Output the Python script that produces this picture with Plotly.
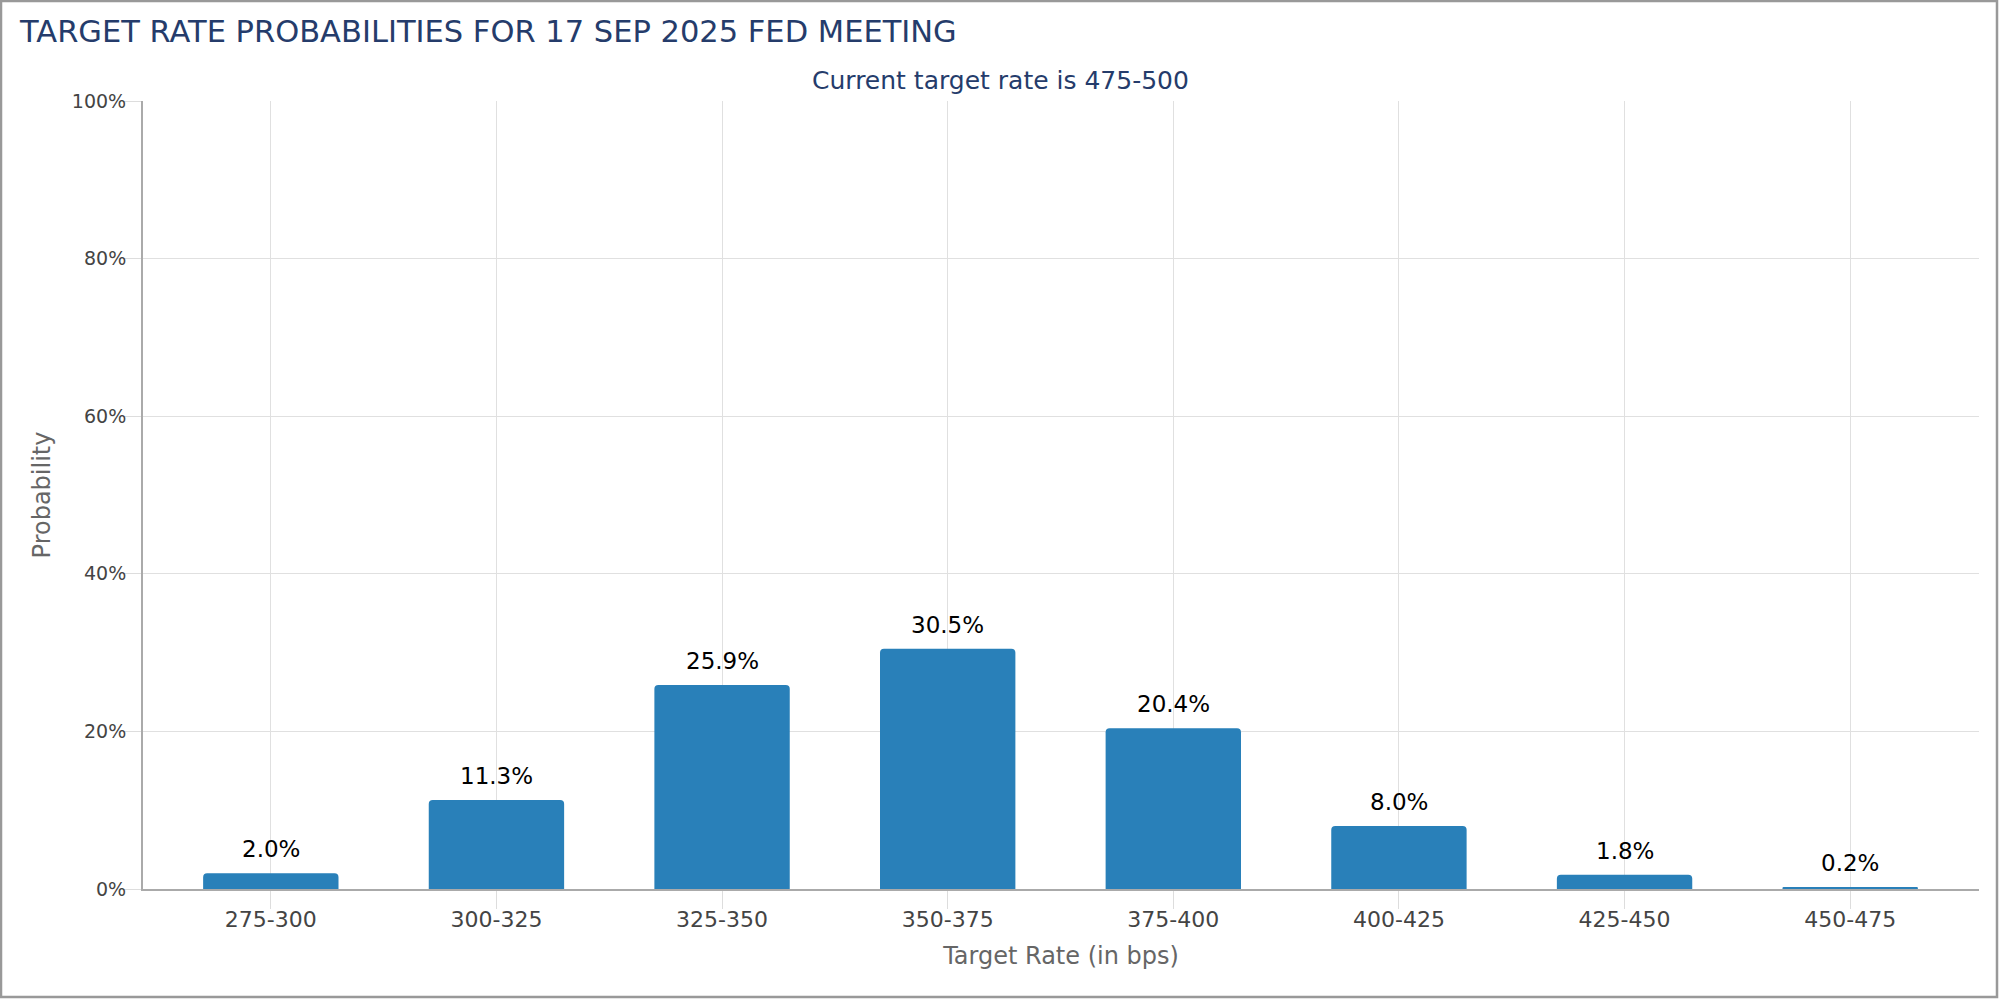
import plotly.graph_objects as go

categories = ["275-300", "300-325", "325-350", "350-375", "375-400", "400-425", "425-450", "450-475"]
probabilities = [2.0, 11.3, 25.9, 30.5, 20.4, 8.0, 1.8, 0.2]
y_ticks = [0, 20, 40, 60, 80, 100]
y_tick_labels = [f"{v}%" for v in y_ticks]

title_text = "TARGET RATE PROBABILITIES FOR 17 SEP 2025 FED MEETING"
subtitle_text = "Current target rate is 475-500"

W, H = 2000, 1000
ML, MR, MT, MB = 143, 21, 101, 111
PW, PH = W - ML - MR, H - MT - MB
FONT = "DejaVu Sans"

fig = go.Figure()
fig.add_trace(go.Bar(
    x=categories, y=probabilities,
    marker=dict(color="#2980b9", cornerradius=4, line=dict(width=0)),
    hoverinfo="x+y",
))

for c, v in zip(categories, probabilities):
    fig.add_annotation(x=c, y=v, text=f"{v:.1f}%", showarrow=False,
                       yanchor="middle", yshift=24,
                       font=dict(family=FONT, size=23, color="#000000"))

fig.add_annotation(xref="paper", yref="paper",
                   x=(W / 2 - ML) / PW, y=1 + (MT - 80) / PH,
                   text=subtitle_text, showarrow=False,
                   xanchor="center", yanchor="middle",
                   font=dict(family=FONT, size=25, color="#253c6b"))

# outer frame
fig.add_shape(type="rect", xref="paper", yref="paper",
              x0=-(ML - 1) / PW, x1=1 + (MR - 3) / PW,
              y0=-(MB - 3) / PH, y1=1 + (MT - 1) / PH,
              line=dict(color="#999999", width=2.5), fillcolor="rgba(0,0,0,0)")

fig.update_layout(
    width=W, height=H,
    margin=dict(l=ML, r=MR, t=MT, b=MB, pad=0),
    paper_bgcolor="white", plot_bgcolor="white",
    bargap=0.4,
    showlegend=False,
    title=dict(text=title_text, x=20 / W, xanchor="left", y=1 - 31 / H,
               yanchor="middle", yref="container",
               font=dict(family=FONT, size=30.5, color="#253c6b")),
    font=dict(family=FONT),
    xaxis=dict(
        type="category",
        range=[-0.5 - 15 / 225.6, len(categories) - 0.5 + 16 / 225.6],
        showgrid=True, gridcolor="#e0e0e0", gridwidth=1,
        showline=True, linecolor="#aaaaaa", linewidth=2,
        ticks="outside", ticklen=18, tickcolor="#dddddd", tickwidth=1,
        ticklabelstandoff=-8,
        tickfont=dict(family=FONT, size=22, color="#444444"),
        title=dict(text="Target Rate (in bps)", standoff=16,
                   font=dict(family=FONT, size=24, color="#666666")),
        fixedrange=True,
    ),
    yaxis=dict(
        range=[0, 100], tickmode="array", tickvals=y_ticks, ticktext=y_tick_labels,
        showgrid=True, gridcolor="#e0e0e0", gridwidth=1,
        showline=True, linecolor="#aaaaaa", linewidth=2,
        zeroline=False,
        ticks="outside", ticklen=17, tickcolor="#dddddd", tickwidth=1,
        ticklabelstandoff=-6,
        tickfont=dict(family=FONT, size=19, color="#444444"),
        title=dict(text="Probability", standoff=14,
                   font=dict(family=FONT, size=24, color="#666666")),
        fixedrange=True,
    ),
)

fig.write_html("out.html", config={"displayModeBar": False},
               post_script="document.body.style.margin='0';document.body.style.padding='0';")
